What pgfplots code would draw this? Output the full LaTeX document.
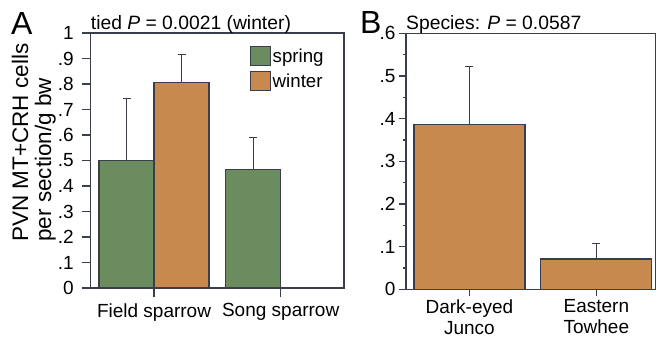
\documentclass[border=0pt]{standalone}
\usepackage{pgfplots}
\pgfplotsset{compat=1.18}
\usepackage{fontspec}
\setmainfont{Liberation Sans}
\definecolor{sgreen}{HTML}{6B8C5F}
\definecolor{worange}{HTML}{C8894F}
\definecolor{edge}{HTML}{3A3D4A}
\pgfplotsset{
  common/.style={
    scale only axis,
    axis line style={edge, line width=1.1bp},
    every tick/.style={edge, line width=1.1bp},
    tick align=outside,
    tick pos=left,
    minor tick length=3.5bp,
    ymin=0,
    xmin=-0.5,
    tick label style={font=\fontsize{19bp}{22bp}\selectfont, text=black},
    every axis title shift=3.5bp,
    title style={font=\fontsize{19.3bp}{22bp}\selectfont, anchor=base west, at={(rel axis cs:0,1)}, inner sep=0pt},
    xtick={0,1},
    ybar=0pt,
    error bars/y dir=plus,
    error bars/y explicit,
    error bars/error bar style={edge, line width=1.1bp},
    error bars/error mark options={edge, rotate=90, mark size=4bp, line width=1.1bp},
  },
  sqlegend/.style={legend image code/.code={\draw[fill=##1, draw=edge, line width=1.1bp] (0bp,-9.7bp) rectangle (19.4bp,9.7bp);}},
}
\begin{document}
\begin{tikzpicture}
\useasboundingbox (0bp,0bp) rectangle (656bp,-337bp);
\node[anchor=north west, inner sep=0pt, font=\fontsize{32bp}{34bp}\selectfont] at (11bp,-12bp) {A};
\node[anchor=north west, inner sep=0pt, font=\fontsize{32bp}{34bp}\selectfont] at (360bp,-11bp) {B};
% Panel A
\begin{axis}[common,
  at={(90.7bp,-288bp)}, anchor=south west,
  width=253.3bp, height=255bp,
  major tick length=9bp,
  xmax=1.5, ymax=1,
  bar width=55bp,
  ytick={0,0.1,...,1.0},
  yticklabels={0,.1,.2,.3,.4,.5,.6,.7,.8,.9,1},
  yticklabel style={xshift=-4.5bp},
  xticklabels={Field sparrow, Song sparrow},
  xticklabel style={yshift=-3bp},
  title={tied \textit{P} = 0.0021 (winter)},
  ylabel={PVN MT+CRH cells\\per section/g bw},
  ylabel style={at={(rel axis cs:0,0.582)}, anchor=center, yshift=57bp, xshift=-3bp, align=left, font=\fontsize{22.5bp}{23bp}\selectfont},
  legend style={draw=none, fill=none, at={(rel axis cs:0.629,0.95)}, anchor=north west, inner sep=0pt, row sep=4.5bp, font=\fontsize{18.7bp}{20bp}\selectfont, legend cell align=left, /tikz/every even column/.append style={column sep=5bp}},
]
\addplot[fill=sgreen, draw=edge, line width=1.1bp, sqlegend=sgreen] coordinates {(0,0.500) +- (0,0.242) (1,0.465) +- (0,0.126)};
\addlegendentry{spring}
\addplot[fill=worange, draw=edge, line width=1.1bp, sqlegend=worange] coordinates {(0,0.805) +- (0,0.111)};
\addlegendentry{winter}
\end{axis}
% Panel B
\begin{axis}[common,
  at={(406bp,-289.3bp)}, anchor=south west,
  width=250bp, height=256bp,
  major tick length=7bp,
  xmax=1.47, ymax=0.6,
  bar width=111bp,
  ytick={0,0.1,...,0.6},
  yticklabels={0,.1,.2,.3,.4,.5,.6},
  minor y tick num=1,
  xticklabels={{Dark-eyed\\Junco},{Eastern\\Towhee}},
  xticklabel style={align=center, yshift=0bp, font=\fontsize{19bp}{20.5bp}\selectfont},
  title={Species: \textit{P} = 0.0587},
]
\addplot[fill=worange, draw=edge, line width=1.1bp] coordinates {(0,0.387) +- (0,0.136) (1,0.071) +- (0,0.036)};
\end{axis}
\end{tikzpicture}
\end{document}
